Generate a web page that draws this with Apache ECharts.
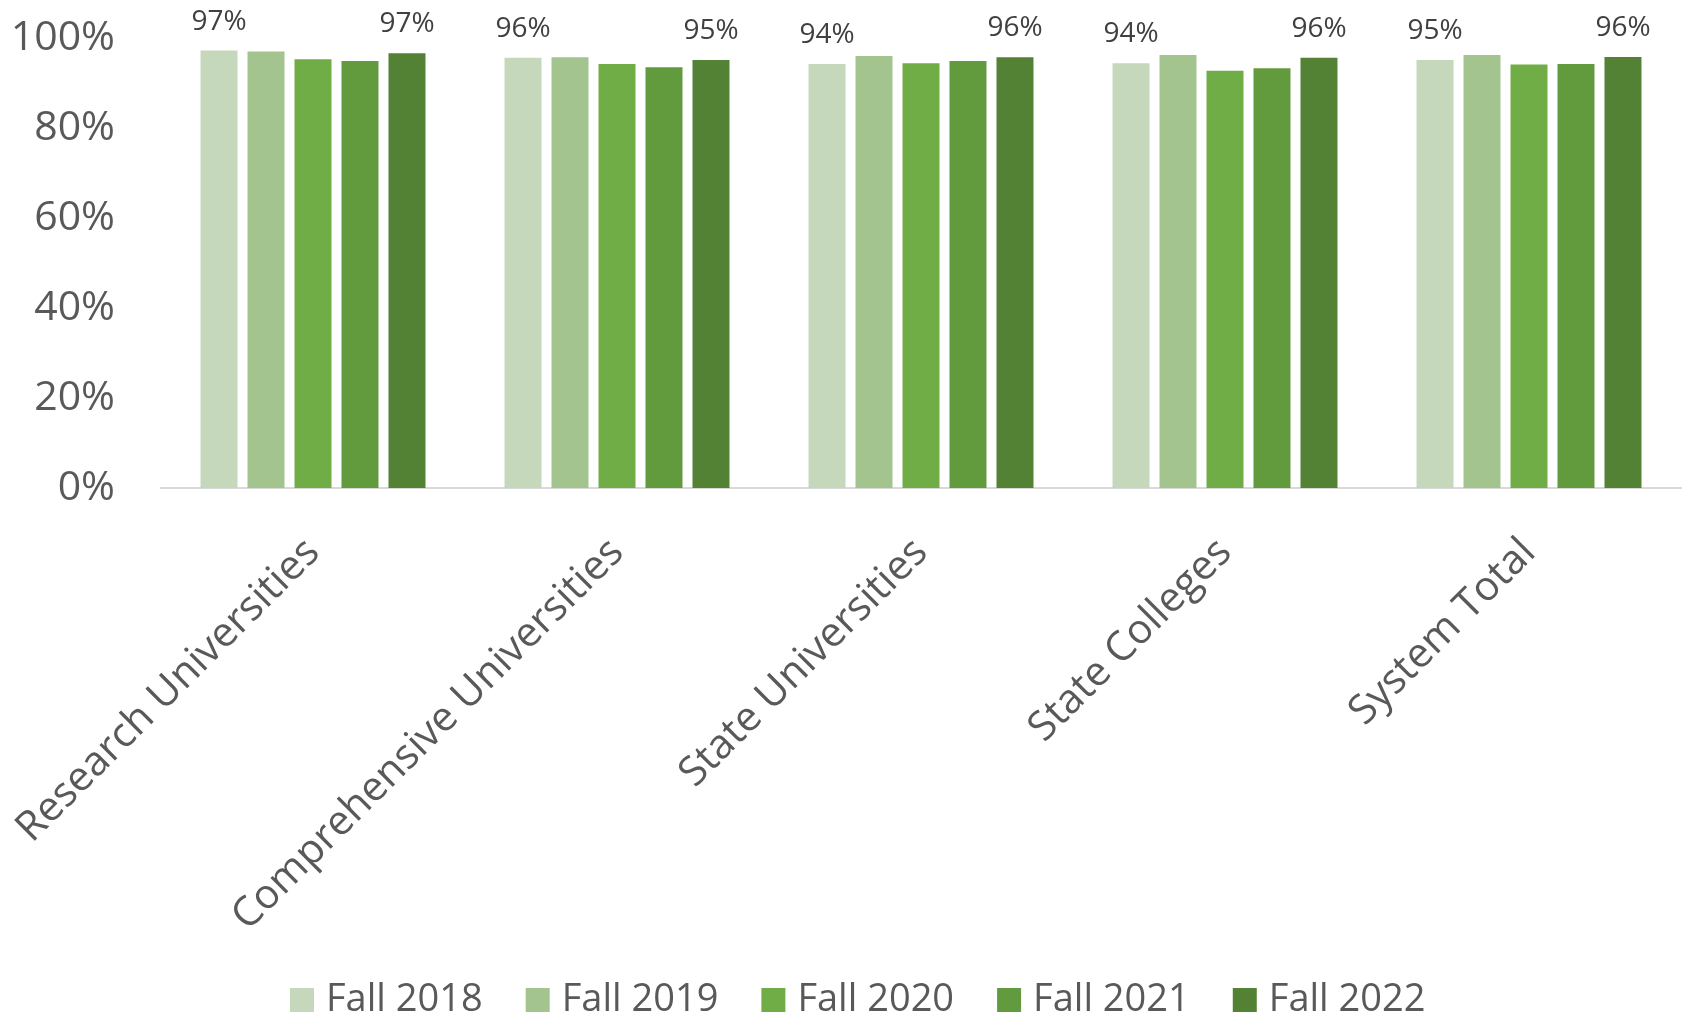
<!DOCTYPE html>
<html>
<head>
<meta charset="utf-8">
<script src="https://cdn.jsdelivr.net/npm/echarts@6/dist/echarts.min.js"></script>
<style>html,body{margin:0;padding:0;background:#fff;}#c{width:1690px;height:1015px;}</style>
</head>
<body>
<div id="c"></div>
<script>
const categories = ['Research Universities', 'Comprehensive Universities', 'State Universities', 'State Colleges', 'System Total'];
const seriesNames = ['Fall 2018', 'Fall 2019', 'Fall 2020', 'Fall 2021', 'Fall 2022'];
const fall2018 = [97.2, 95.6, 94.2, 94.4, 95.1];
const fall2019 = [97.0, 95.7, 96.0, 96.2, 96.2];
const fall2020 = [95.3, 94.2, 94.4, 92.7, 94.1];
const fall2021 = [94.9, 93.5, 94.9, 93.3, 94.2];
const fall2022 = [96.6, 95.1, 95.7, 95.6, 95.8];
const yTicks = [0, 20, 40, 60, 80, 100];
const colors = ['#C5D8BC', '#A4C48F', '#70AD47', '#629A3E', '#548235'];
const labeled = [true, false, false, false, true];

const chart = echarts.init(document.getElementById('c'));
const FONT = '"Open Sans", sans-serif';
const dataSets = [fall2018, fall2019, fall2020, fall2021, fall2022];

chart.setOption({
  animation: false,
  backgroundColor: '#fff',
  color: colors,
  grid: { left: 161, right: 9, top: 38, bottom: 527, containLabel: false },
  legend: {
    top: 976,
    left: 285,
    itemWidth: 24,
    itemHeight: 24,
    itemGap: 43,
    icon: 'rect',
    data: seriesNames,
    textStyle: { fontFamily: FONT, fontSize: 38, color: '#595959', padding: [0, 0, 0, 7] }
  },
  xAxis: {
    type: 'category',
    data: categories,
    axisLine: { lineStyle: { color: '#D9D9D9', width: 2 } },
    axisTick: { show: false },
    axisLabel: {
      rotate: 45,
      interval: 0,
      margin: 58,
      fontFamily: FONT,
      fontSize: 41,
      color: '#595959'
    }
  },
  yAxis: {
    type: 'value',
    min: yTicks[0],
    max: yTicks[yTicks.length - 1],
    interval: 20,
    splitLine: { show: false },
    axisLine: { show: false },
    axisTick: { show: false },
    axisLabel: {
      margin: 46,
      fontFamily: FONT,
      fontSize: 41,
      color: '#595959',
      formatter: v => v + '%'
    }
  },
  series: seriesNames.map((name, i) => ({
    name: name,
    type: 'bar',
    data: dataSets[i],
    barWidth: 37,
    barGap: '27%',
    itemStyle: { color: colors[i] },
    label: {
      show: labeled[i],
      position: 'top',
      distance: 15,
      fontFamily: FONT,
      fontSize: 28,
      color: '#404040',
      formatter: p => Math.round(p.value) + '%'
    }
  }))
});
</script>
</body>
</html>
